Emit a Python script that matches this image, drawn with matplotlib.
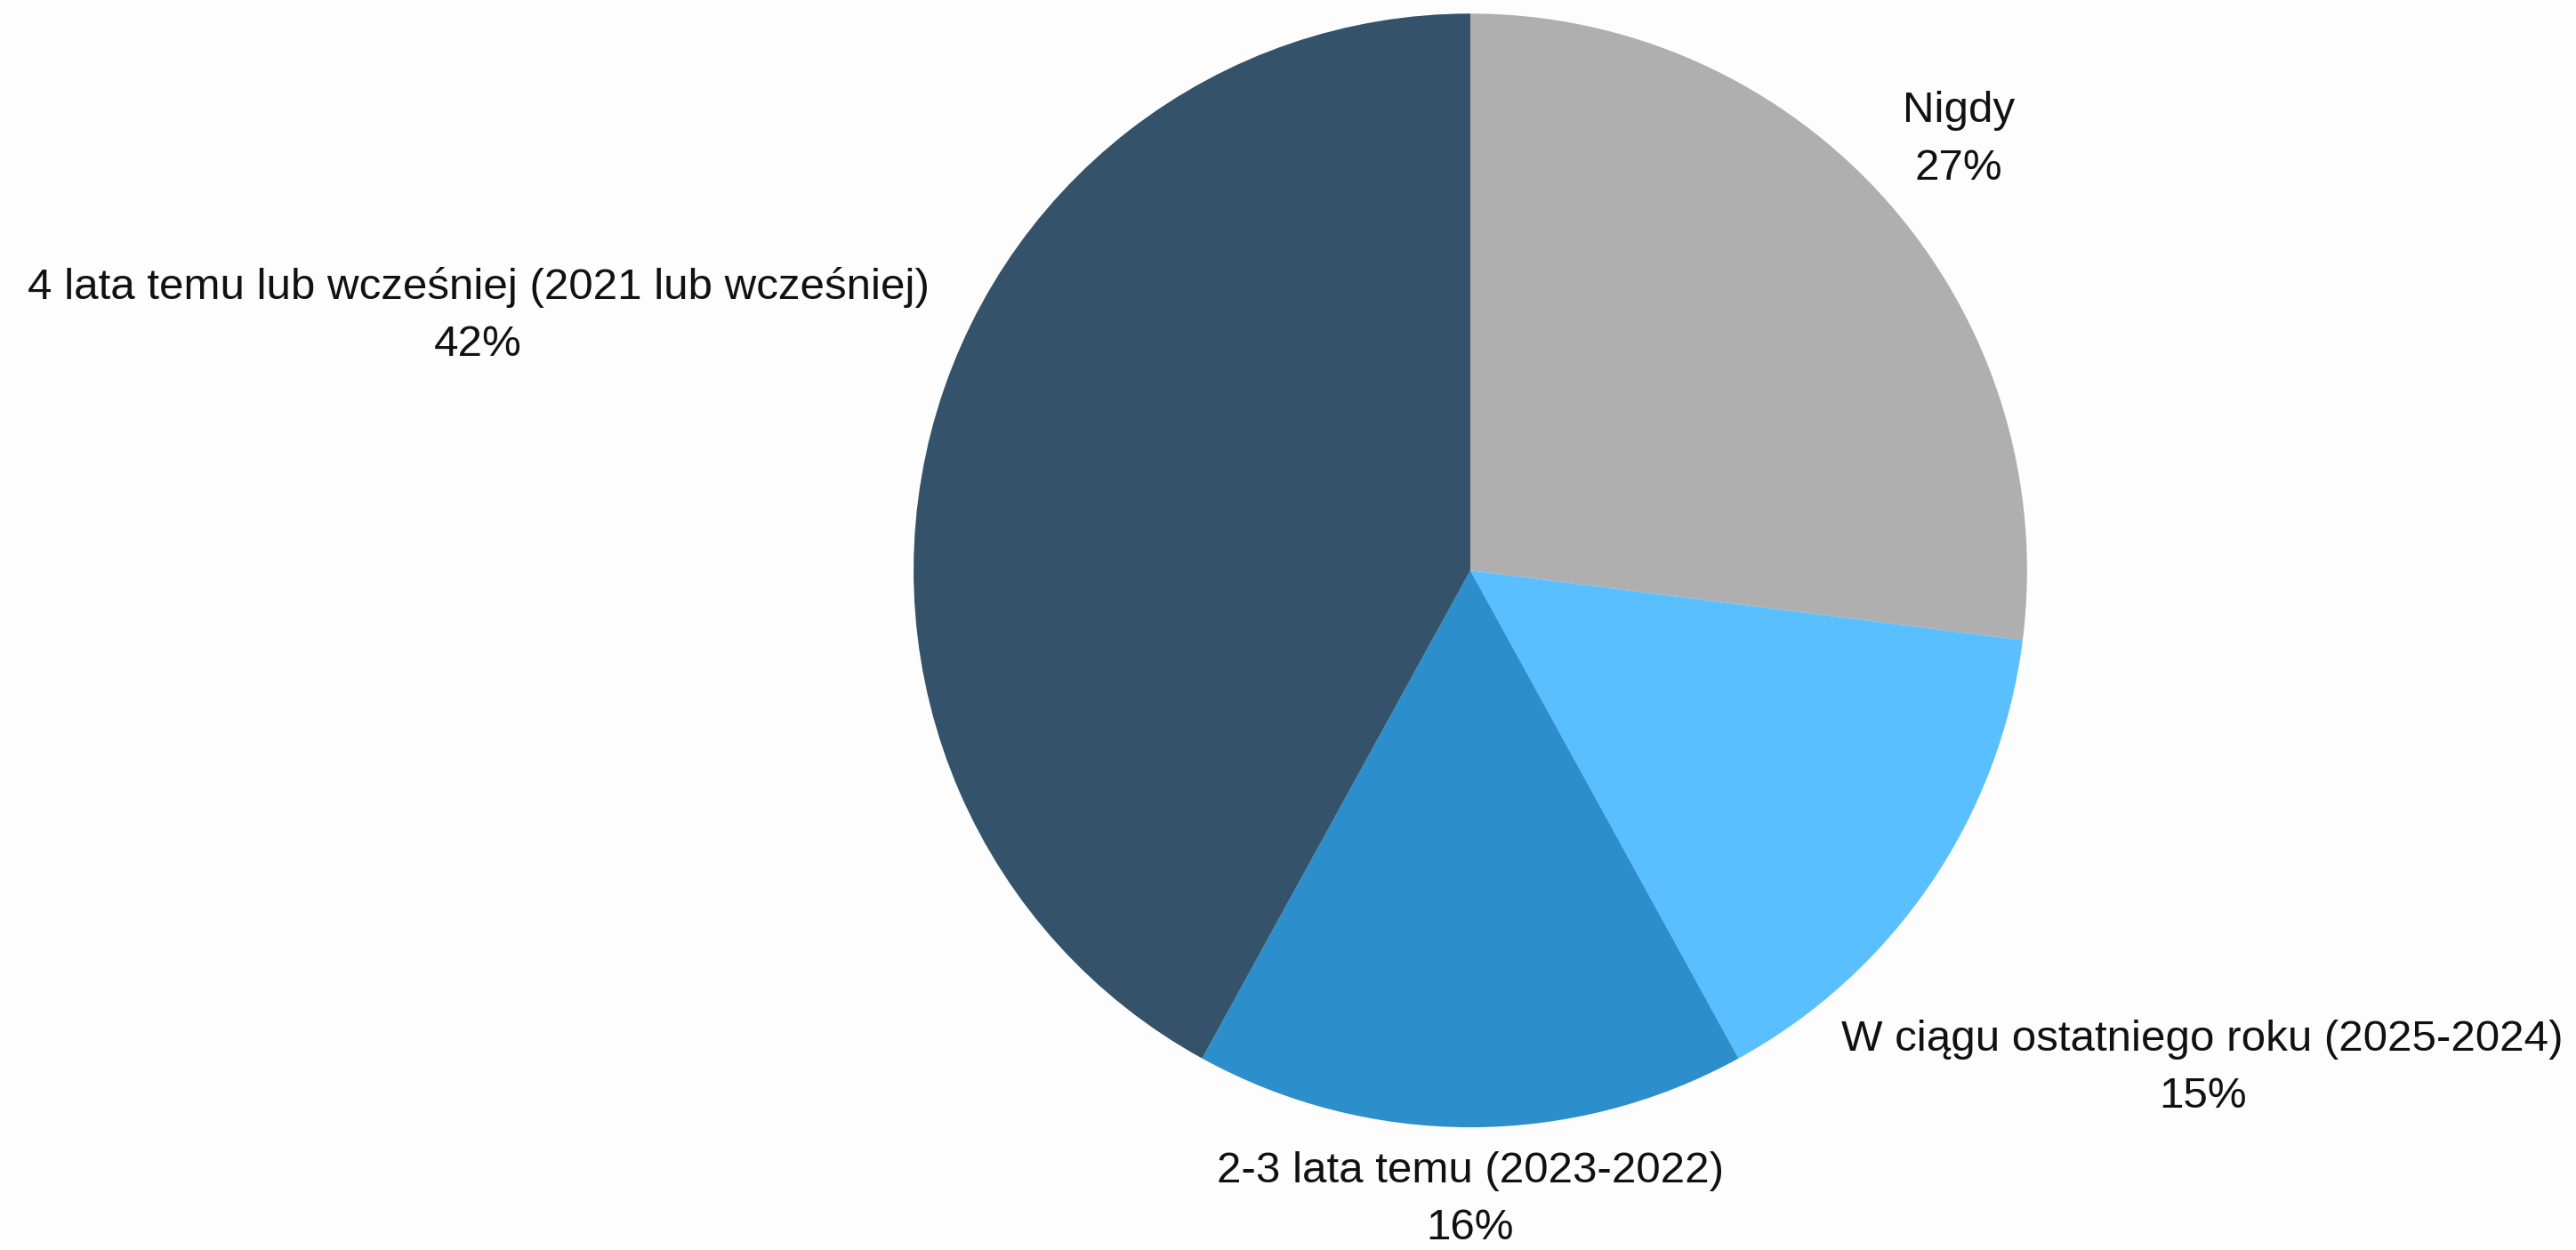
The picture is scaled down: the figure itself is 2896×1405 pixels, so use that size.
import numpy as np
import matplotlib.pyplot as plt

plt.rcParams['font.family'] = ['Liberation Sans', 'DejaVu Sans']

# data
labels = ['Nigdy', 'W ciągu ostatniego roku (2025-2024)', '2-3 lata temu (2023-2022)',
          '4 lata temu lub wcześniej (2021 lub wcześniej)']
values = [27, 15, 16, 42]
colors = ['#afafaf', '#5abffe', '#2c8eca', '#34526a']
label_dist = [1.17, 1.59, 1.13, 1.84]

fig = plt.figure(figsize=(28.96, 14.05), dpi=100)
fig.patch.set_facecolor('#fdfdfd')
ax = fig.add_axes([0, 0, 1, 1])
ax.set_facecolor('#fdfdfd')

wedges, _ = ax.pie(values, colors=colors, startangle=90, counterclock=False,
                   radius=1.0, center=(0, 0), wedgeprops=dict(linewidth=0))

total = float(sum(values))
start = 90.0
for lab, v, d in zip(labels, values, label_dist):
    mid = np.deg2rad(start - v / total * 360 / 2)
    start -= v / total * 360
    ax.text(d * np.cos(mid), d * np.sin(mid), '%s\n%d%%' % (lab, v),
            ha='center', va='center', fontsize=35.5, color='#111111',
            linespacing=1.55)

ax.set_xlim(-2.641, 1.986)
ax.set_ylim(-1.220, 1.024)
ax.set_aspect('equal', adjustable='box')
ax.axis('off')

fig.savefig('out.png', dpi=100, facecolor=fig.get_facecolor())
